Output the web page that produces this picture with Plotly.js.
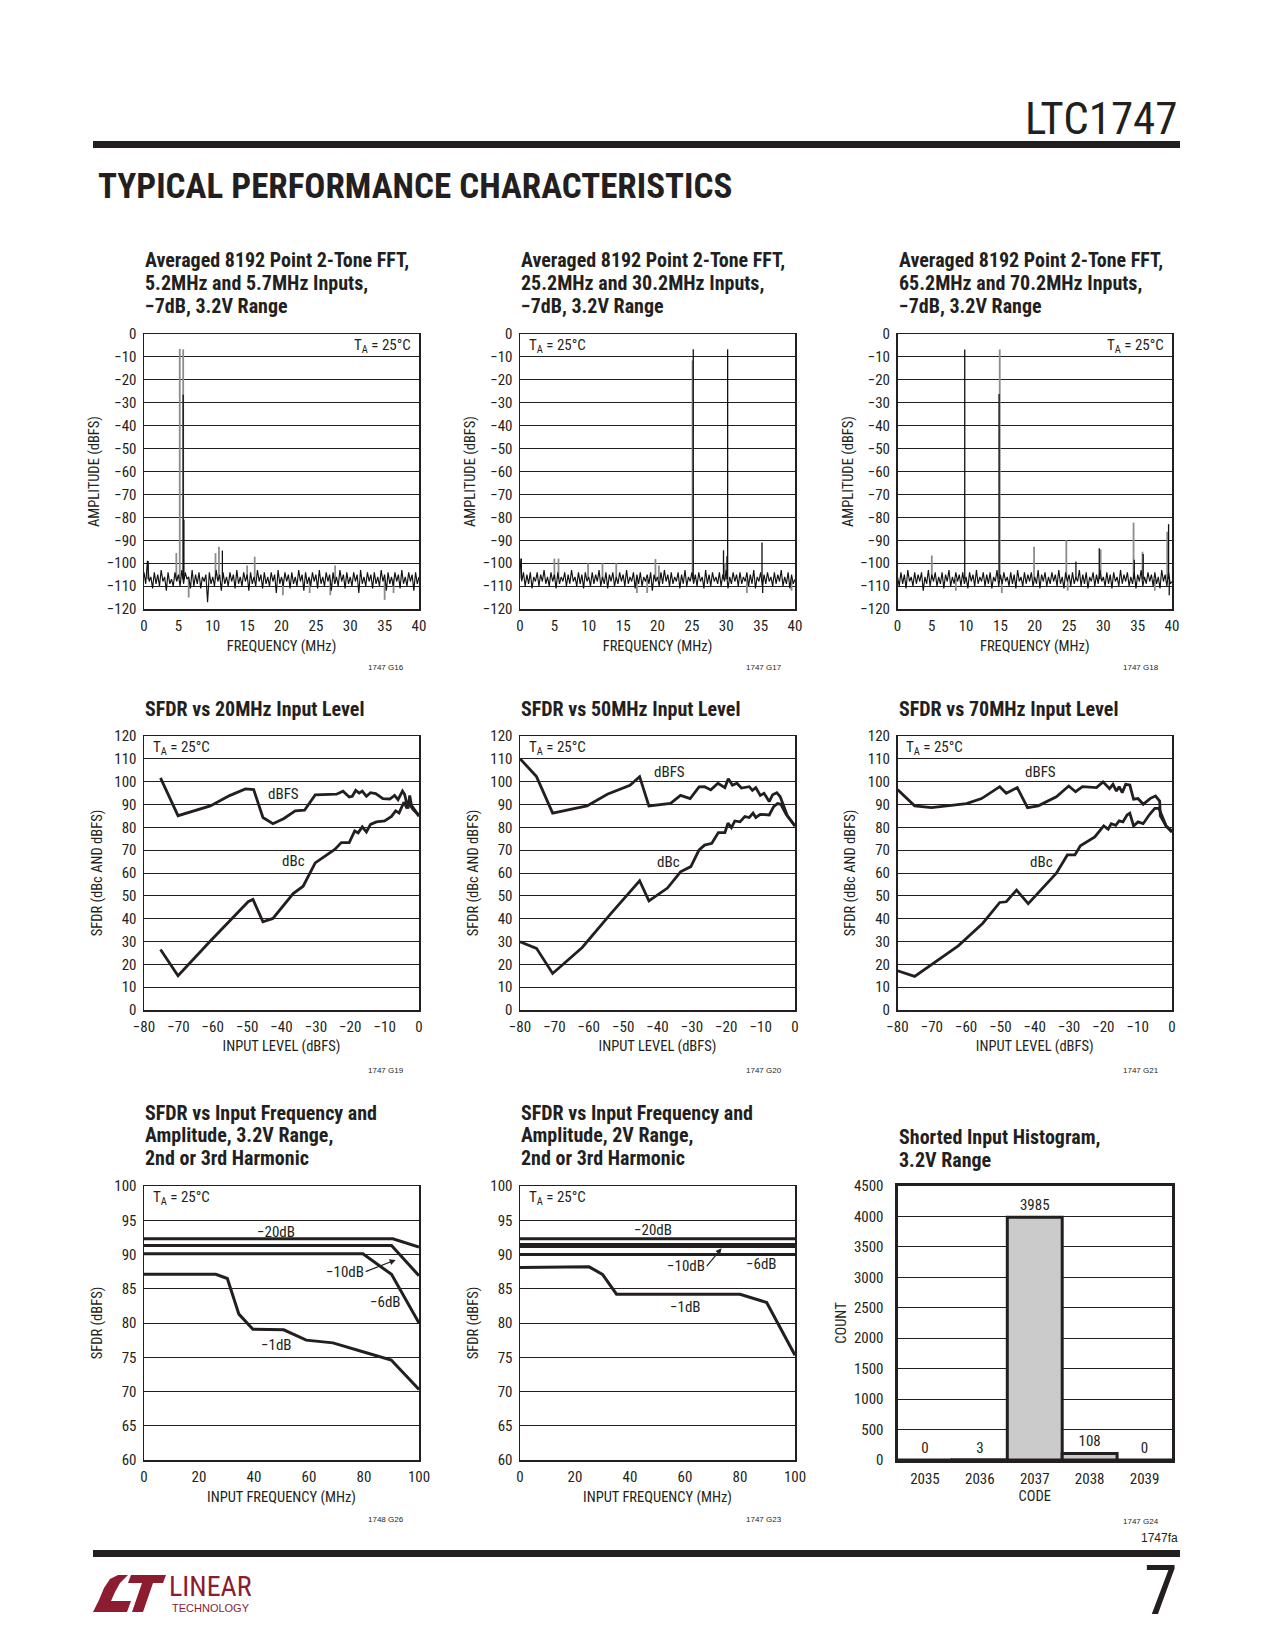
<!DOCTYPE html>
<html><head><meta charset="utf-8">
<script src="https://cdn.plot.ly/plotly-3.0.1.min.js"></script>
<style>html,body{margin:0;padding:0;background:#fff}#chart{width:1275px;height:1650px}</style>
</head><body><div id="chart"></div>
<script>
// ---------------- DATA ----------------
// FFT charts: bin spacing of the averaged noise floor (MHz) and floor values (dBFS)
const fftBinStep = 0.25;
const fft1Noise = [-104,-109,-99,-108,-106,-111,-104,-109,-105,-110,
 -103,-108,-106,-112,-104,-109,-107,-110,-104,-108,
 -105,-110,-103,-109,-104,-107,-106,-111,-103,-110,
 -105,-109,-104,-111,-106,-108,-105,-117,-104,-109,
 -106,-110,-103,-108,-105,-112,-104,-109,-106,-110,
 -104,-108,-105,-111,-103,-109,-106,-110,-104,-108,
 -105,-112,-104,-109,-106,-110,-103,-108,-105,-111,
 -104,-109,-106,-110,-104,-108,-105,-113,-103,-109,
 -106,-110,-104,-108,-105,-111,-104,-109,-106,-110,
 -103,-108,-105,-112,-104,-109,-106,-110,-104,-108,
 -105,-111,-103,-109,-106,-110,-104,-108,-105,-112,
 -104,-109,-106,-110,-103,-108,-105,-111,-104,-109,
 -106,-110,-104,-108,-105,-113,-103,-109,-106,-110,
 -104,-108,-105,-111,-104,-109,-106,-110,-103,-108,
 -105,-112,-104,-109,-106,-110,-104,-108,-105,-111,
 -103,-109,-106,-110,-104,-108,-105,-112,-104,-109,
 -106];
const fft2Noise = [-98,-108,-104,-110,-105,-109,-104,-111,-106,-108,
 -104,-110,-105,-108,-103,-109,-106,-110,-104,-108,
 -105,-111,-104,-109,-106,-108,-104,-110,-105,-109,
 -103,-108,-106,-110,-104,-109,-105,-111,-104,-108,
 -106,-110,-104,-109,-105,-108,-103,-110,-106,-109,
 -104,-111,-105,-108,-104,-110,-106,-109,-104,-108,
 -105,-110,-103,-109,-106,-108,-104,-111,-105,-109,
 -104,-110,-106,-108,-105,-109,-104,-112,-105,-108,
 -106,-110,-104,-109,-103,-108,-105,-110,-104,-109,
 -106,-108,-104,-111,-105,-109,-103,-110,-106,-108,
 -104,-109,-105,-110,-104,-108,-106,-111,-103,-109,
 -105,-110,-104,-108,-106,-109,-104,-110,-105,-108,
 -103,-111,-106,-109,-104,-108,-105,-110,-104,-109,
 -106,-108,-104,-110,-105,-109,-103,-111,-106,-108,
 -104,-110,-105,-109,-104,-108,-106,-110,-104,-109,
 -105,-108,-103,-110,-106,-109,-104,-111,-105,-109,
 -107];
const fft3Noise = [-106,-110,-104,-109,-105,-111,-103,-108,-106,-110,
 -104,-109,-105,-108,-104,-112,-106,-109,-103,-110,
 -105,-108,-104,-110,-106,-109,-104,-111,-105,-108,
 -103,-110,-106,-109,-104,-108,-105,-110,-104,-109,
 -106,-111,-104,-108,-105,-110,-103,-109,-106,-108,
 -104,-110,-105,-109,-104,-111,-106,-108,-103,-110,
 -105,-109,-104,-108,-106,-110,-104,-109,-105,-111,
 -103,-108,-106,-110,-104,-109,-105,-108,-104,-110,
 -106,-109,-103,-111,-105,-108,-104,-110,-106,-109,
 -104,-108,-105,-110,-103,-109,-106,-111,-104,-108,
 -105,-110,-104,-109,-106,-108,-103,-110,-105,-109,
 -104,-111,-106,-108,-104,-110,-105,-109,-103,-108,
 -106,-110,-104,-109,-105,-111,-104,-108,-106,-110,
 -103,-109,-105,-108,-104,-110,-106,-109,-104,-111,
 -105,-108,-103,-110,-106,-109,-104,-108,-105,-110,
 -104,-109,-106,-111,-103,-108,-105,-110,-104,-109,
 -108];
const fftFloor = -107;
// spectral lines (MHz, dBFS): grey = one averaged trace, black = other trace
const fft1GreyFreq = [4.7, 5.2, 5.7, 10.4, 10.9, 15.0, 16.1, 27.8, 6.5, 20.2, 24.1, 27.1, 35.0, 36.3];
const fft1GreyAmp  = [-95.6, -6.5, -6.7, -95.6, -92.8, -101, -97.2, -101, -115, -114, -113, -114, -116, -113];
const fft1BlackFreq = [0.6, 5.7, 5.8, 11.4];
const fft1BlackAmp  = [-99, -26.5, -81, -94.5];
const fft2GreyFreq = [5.0, 5.6, 9.9, 12.0, 14.0, 19.7, 20.2, 25.1, 29.8, 17.0, 18.5, 33.0, 39.5];
const fft2GreyAmp  = [-98, -98, -100, -100, -100, -98.2, -101, -11.5, -100, -113, -113, -113, -112];
const fft2BlackFreq = [0.2, 25.2, 29.6, 30.1, 30.2, 35.2, 35.3];
const fft2BlackAmp  = [-98, -6.7, -94.4, -97, -6.7, -91, -113];
const fft3GreyFreq = [5.0, 14.9, 19.9, 24.6, 29.6, 34.4, 35.7, 39.3, 8.5, 15.2, 24.8, 37.5];
const fft3GreyAmp  = [-96.7, -6.8, -92.8, -90, -94, -82.3, -95, -86.3, -112, -113, -112, -112];
const fft3BlackFreq = [9.8, 14.8, 26.0, 29.4, 34.5, 35.8, 39.5, 39.6];
const fft3BlackAmp  = [-6.8, -26.2, -99.3, -93.5, -98.5, -96, -83, -114];

// SFDR vs input level (dBFS input level, SFDR)
const s20FsX = [-75.2,-70.1,-60.7,-55.1,-50.5,-48.1,-45.4,-42.5,-39.4,-36.0,-33.3,-30.2,-24.0,-22.1,-20.3,-19.4,-18.4,-17.4,-16.5,-15.3,-14.1,-12.6,-10.5,-8.5,-7.1,-6.1,-4.8,-4.2,-3.2,-2.7,-2.2,0];
const s20FsY = [101.7,85.1,89.4,93.9,96.8,96.5,84.3,81.6,83.8,87.2,87.5,94.2,94.5,95.8,93.3,93.6,96.2,95.0,95.9,93.6,95.2,94.8,92.6,92.4,94.0,92.1,95.9,94.5,88.2,94.0,89.7,84.8];
const s20CX = [-75.2,-70.1,-60.9,-49.7,-48.3,-45.4,-42.5,-36.6,-33.7,-30.2,-24.5,-22.6,-20.3,-18.7,-17.7,-16.5,-15.3,-14.1,-12.4,-10.0,-8.0,-6.8,-5.8,-4.4,-3.7,-2.9,-1.7,0];
const s20CY = [26.5,15.0,29.9,47.4,48.4,38.6,40.1,51.0,54.2,64.4,70.3,73.3,73.3,78.4,77.6,80.2,78.0,81.3,82.4,82.8,84.8,87.2,86.3,91.0,88.9,90.4,87.8,85.3];
const s50FsX = [-80,-75.2,-70.5,-60.5,-54.6,-48.0,-45.2,-42.5,-36.2,-33.3,-30.5,-27.9,-26.3,-24.5,-22.4,-20.4,-19.4,-18.2,-16.9,-15.6,-13.3,-12.4,-11.4,-10.1,-9.0,-7.5,-6.5,-5.3,-4.3,-3.3,-2.2,0];
const s50FsY = [110.1,102.2,86.2,89.4,94.5,98.4,102.2,89.4,90.5,94.0,92.6,97.7,97.8,96.4,99.3,97.4,101.3,98.4,99.3,97.2,97.8,96.2,97.4,94.0,94.9,91.3,94.3,95.2,93.4,89.1,85.0,80.6];
const s50CX = [-80,-75.2,-70.5,-61.9,-53.7,-45.2,-42.5,-37.1,-33.3,-30.3,-27.9,-26.3,-24.2,-22.3,-20.4,-19.5,-18.5,-17.5,-16.0,-14.6,-13.3,-12.2,-11.4,-10.1,-7.5,-6.2,-5.1,-4.1,-2.6,0];
const s50CY = [29.9,27.0,16.0,27.4,42.0,56.6,47.8,53.4,60.5,62.8,70.1,72.2,73.0,77.7,77.7,81.8,79.9,82.8,82.4,84.7,84.3,86.2,84.3,85.7,85.4,89.1,90.4,90.1,85.7,80.6];
const s70FsX = [-80,-75.0,-70.1,-59.9,-55.5,-50.2,-48.3,-45.1,-42.1,-39.0,-33.7,-30.1,-28.1,-26.1,-22.0,-20.1,-18.2,-17.2,-16.2,-15.4,-14.5,-13.5,-12.3,-11.2,-9.9,-8.4,-6.3,-4.8,-3.6,-3.4,-1.7,0];
const s70FsY = [96.6,89.4,88.6,90.4,92.6,97.8,94.9,97.4,88.6,89.4,93.4,98.1,95.6,97.8,97.4,99.9,96.9,98.8,95.9,97.8,95.2,98.8,98.5,92.3,92.6,90.1,92.7,93.7,91.5,85.0,80.5,77.8];
const s70CX = [-80,-75.0,-62.3,-55.2,-50.2,-48.3,-45.3,-41.9,-33.7,-30.5,-28.3,-26.7,-22.5,-19.9,-18.6,-17.7,-16.4,-15.4,-14.3,-13.1,-12.3,-11.2,-9.9,-8.4,-6.5,-5.0,-3.8,-2.8,-1.7,0];
const s70CY = [17.2,14.7,28.1,37.9,47.1,47.4,52.5,46.6,59.9,67.9,67.9,71.9,75.8,80.6,79.2,81.6,80.9,82.8,82.4,85.4,86.2,80.6,82.4,81.6,85.7,88.3,88.3,85.0,80.6,78.4];

// SFDR vs input frequency (MHz, dBFS), 3.2V range
const r32m20X = [0, 90.5, 100];            const r32m20Y = [92.3, 92.3, 91.1];
const r32m10X = [0, 90, 100];              const r32m10Y = [91.3, 91.3, 86.9];
const r32m6X  = [0, 79.6, 90, 100];        const r32m6Y  = [90.1, 90.1, 87.1, 80.0];
const r32m1X  = [0,26.1,30.3,34.5,39.6,50.8,59.0,68.7,79.6,89.9,100];
const r32m1Y  = [87.1,87.1,86.5,81.3,79.1,79.0,77.5,77.1,75.8,74.6,70.3];
// 2V range
const r2m20X = [0, 100];  const r2m20Y = [92.3, 92.3];
const r2m10X = [0, 100];  const r2m10Y = [91.3, 91.3];
const r2m6X  = [0, 100];  const r2m6Y  = [90.0, 90.0];
const r2m1X  = [0,25.1,30.0,35.1,80.0,89.7,100];
const r2m1Y  = [88.1,88.2,87.1,84.2,84.2,83.0,75.3];

// Shorted input histogram
const histCodes  = [2035, 2036, 2037, 2038, 2039];
const histCounts = [0, 3, 3985, 108, 0];

// ---------------- RENDERING ----------------
const W = 1275, H = 1650;
const INK = '#231f20';
const FONT = '"Liberation Sans Narrow","Roboto Condensed","DejaVu Sans Condensed",Arial,sans-serif';
const FS = 15;
const px = v => v / W, py = v => 1 - v / H;
const cols = [[144, 419], [520, 795], [897.5, 1172]];
const rows = [[334, 609], [736, 1010], [1186, 1460]];
const xd = c => [px(cols[c][0]), px(cols[c][1])];
const yd = r => [py(rows[r][1]), py(rows[r][0])];

function ax(dom, extra) {
  return Object.assign({domain: dom, showline: true, mirror: true, linecolor: INK, linewidth: 1.5,
    showgrid: false, zeroline: false, ticks: '', fixedrange: true,
    tickfont: {family: FONT, size: FS, color: INK}}, extra);
}
const grid = {showgrid: true, gridcolor: INK, gridwidth: 1};
const at = (t, s) => ({text: t, font: {family: FONT, size: 14.5, color: INK}, standoff: s});

const traces = [];
function fftTraces(noise, gF, gA, bF, bA, xa, ya) {
  const nx = noise.map((_, i) => i * fftBinStep);
  const seg = (f, a) => { const x = [], y = []; f.forEach((v, i) => { x.push(v, v, null); y.push(fftFloor, a[i], null); }); return {x, y}; };
  const g = seg(gF, gA), b = seg(bF, bA);
  traces.push({type: 'scatter', mode: 'lines', x: g.x, y: g.y, xaxis: xa, yaxis: ya, line: {color: '#8c8c8c', width: 1.8}, hoverinfo: 'skip', showlegend: false});
  traces.push({type: 'scatter', mode: 'lines', x: nx, y: noise, xaxis: xa, yaxis: ya, line: {color: '#111', width: 1.15}, hoverinfo: 'skip', showlegend: false});
  traces.push({type: 'scatter', mode: 'lines', x: b.x, y: b.y, xaxis: xa, yaxis: ya, line: {color: '#111', width: 1.3}, hoverinfo: 'skip', showlegend: false});
}
fftTraces(fft1Noise, fft1GreyFreq, fft1GreyAmp, fft1BlackFreq, fft1BlackAmp, 'x', 'y');
fftTraces(fft2Noise, fft2GreyFreq, fft2GreyAmp, fft2BlackFreq, fft2BlackAmp, 'x2', 'y2');
fftTraces(fft3Noise, fft3GreyFreq, fft3GreyAmp, fft3BlackFreq, fft3BlackAmp, 'x3', 'y3');

function line(x, y, xa, ya, w, name) {
  traces.push({type: 'scatter', mode: 'lines', x, y, xaxis: xa, yaxis: ya, name, line: {color: INK, width: w}, showlegend: false});
}
line(s20FsX, s20FsY, 'x4', 'y4', 2.8, 'dBFS'); line(s20CX, s20CY, 'x4', 'y4', 2.8, 'dBc');
line(s50FsX, s50FsY, 'x5', 'y5', 2.8, 'dBFS'); line(s50CX, s50CY, 'x5', 'y5', 2.8, 'dBc');
line(s70FsX, s70FsY, 'x6', 'y6', 2.8, 'dBFS'); line(s70CX, s70CY, 'x6', 'y6', 2.8, 'dBc');
line(r32m20X, r32m20Y, 'x7', 'y7', 3, '−20dB'); line(r32m10X, r32m10Y, 'x7', 'y7', 3, '−10dB');
line(r32m6X, r32m6Y, 'x7', 'y7', 3, '−6dB');   line(r32m1X, r32m1Y, 'x7', 'y7', 3, '−1dB');
line(r2m20X, r2m20Y, 'x8', 'y8', 3, '−20dB'); line(r2m10X, r2m10Y, 'x8', 'y8', 5, '−10dB');
line(r2m6X, r2m6Y, 'x8', 'y8', 3, '−6dB');   line(r2m1X, r2m1Y, 'x8', 'y8', 3, '−1dB');

traces.push({type: 'bar', x: histCodes, y: histCounts, xaxis: 'x9', yaxis: 'y9', width: 1,
  marker: {color: '#cbcbcb', line: {color: INK, width: 3}},
  text: histCounts.map(String), textposition: 'outside', cliponaxis: false,
  textfont: {family: FONT, size: FS, color: INK}, showlegend: false});

const sx = {ticklabelstandoff: 2};   // x tick labels slightly lower
const sy = {ticklabelstandoff: 3};   // y tick labels slightly further left
const layout = {
  width: W, height: H, margin: {l: 0, r: 0, t: 0, b: 0, pad: 0},
  paper_bgcolor: '#fff', plot_bgcolor: '#fff', showlegend: false, bargap: 0,
  font: {family: FONT, color: INK},
  xaxis:  ax(xd(0), Object.assign({anchor: 'y',  range: [0, 40], dtick: 5, tick0: 0, title: at('FREQUENCY (MHz)', 7)}, sx)),
  yaxis:  ax(yd(0), Object.assign({anchor: 'x',  range: [-120, 0], dtick: 10, title: at('AMPLITUDE (dBFS)', 3)}, grid, sy)),
  xaxis2: ax(xd(1), Object.assign({anchor: 'y2', range: [0, 40], dtick: 5, tick0: 0, title: at('FREQUENCY (MHz)', 7)}, sx)),
  yaxis2: ax(yd(0), Object.assign({anchor: 'x2', range: [-120, 0], dtick: 10, title: at('AMPLITUDE (dBFS)', 3)}, grid, sy)),
  xaxis3: ax(xd(2), Object.assign({anchor: 'y3', range: [0, 40], dtick: 5, tick0: 0, title: at('FREQUENCY (MHz)', 7)}, sx)),
  yaxis3: ax(yd(0), Object.assign({anchor: 'x3', range: [-120, 0], dtick: 10, title: at('AMPLITUDE (dBFS)', 3)}, grid, sy)),
  xaxis4: ax(xd(0), Object.assign({anchor: 'y4', range: [-80, 0], dtick: 10, tick0: 0, title: at('INPUT LEVEL (dBFS)', 6)}, sx)),
  yaxis4: ax(yd(1), Object.assign({anchor: 'x4', range: [0, 120], dtick: 10, title: at('SFDR (dBc AND dBFS)', 8)}, grid, sy)),
  xaxis5: ax(xd(1), Object.assign({anchor: 'y5', range: [-80, 0], dtick: 10, tick0: 0, title: at('INPUT LEVEL (dBFS)', 6)}, sx)),
  yaxis5: ax(yd(1), Object.assign({anchor: 'x5', range: [0, 120], dtick: 10, title: at('SFDR (dBc AND dBFS)', 8)}, grid, sy)),
  xaxis6: ax(xd(2), Object.assign({anchor: 'y6', range: [-80, 0], dtick: 10, tick0: 0, title: at('INPUT LEVEL (dBFS)', 6)}, sx)),
  yaxis6: ax(yd(1), Object.assign({anchor: 'x6', range: [0, 120], dtick: 10, title: at('SFDR (dBc AND dBFS)', 8)}, grid, sy)),
  xaxis7: ax(xd(0), Object.assign({anchor: 'y7', range: [0, 100], dtick: 20, tick0: 0, title: at('INPUT FREQUENCY (MHz)', 7)}, sx)),
  yaxis7: ax(yd(2), Object.assign({anchor: 'x7', range: [60, 100], dtick: 5, title: at('SFDR (dBFS)', 8)}, grid, sy)),
  xaxis8: ax(xd(1), Object.assign({anchor: 'y8', range: [0, 100], dtick: 20, tick0: 0, title: at('INPUT FREQUENCY (MHz)', 7)}, sx)),
  yaxis8: ax(yd(2), Object.assign({anchor: 'x8', range: [60, 100], dtick: 5, title: at('SFDR (dBFS)', 8)}, grid, sy)),
  xaxis9: ax(xd(2), {anchor: 'y9', range: [2034.5, 2039.5], tickvals: histCodes, ticktext: histCodes.map(String), linewidth: 3, ticklabelstandoff: 3, title: at('CODE', 2)}),
  yaxis9: ax(yd(2), Object.assign({anchor: 'x9', range: [0, 4500], dtick: 500, linewidth: 3, ticklabelstandoff: 8, title: at('COUNT', 4)}, grid)),
  annotations: [], shapes: []
};

const A = layout.annotations;
function txt(x, y, text, o) {
  A.push(Object.assign({xref: 'paper', yref: 'paper', x: px(x), y: py(y), text, showarrow: false,
    xanchor: 'left', yanchor: 'middle', font: {family: FONT, size: FS, color: INK}}, o || {}));
}
function titleLines(x, ys, lines) {
  lines.forEach((t, i) => txt(x, ys[i], t, {font: {family: FONT, size: 20, color: INK, weight: 700}}));
}
const r1y = [260.5, 283, 305.5], r3y = [1112.5, 1135, 1157.5];
titleLines(cols[0][0] - 1, r1y, ['Averaged 8192 Point 2-Tone FFT,', '5.2MHz and 5.7MHz Inputs,', '−7dB, 3.2V Range']);
titleLines(cols[1][0] - 1, r1y, ['Averaged 8192 Point 2-Tone FFT,', '25.2MHz and 30.2MHz Inputs,', '−7dB, 3.2V Range']);
titleLines(cols[2][0] - 1, r1y, ['Averaged 8192 Point 2-Tone FFT,', '65.2MHz and 70.2MHz Inputs,', '−7dB, 3.2V Range']);
titleLines(cols[0][0] - 1, [709], ['SFDR vs 20MHz Input Level']);
titleLines(cols[1][0] - 1, [709], ['SFDR vs 50MHz Input Level']);
titleLines(cols[2][0] - 1, [709], ['SFDR vs 70MHz Input Level']);
titleLines(cols[0][0] - 1, r3y, ['SFDR vs Input Frequency and', 'Amplitude, 3.2V Range,', '2nd or 3rd Harmonic']);
titleLines(cols[1][0] - 1, r3y, ['SFDR vs Input Frequency and', 'Amplitude, 2V Range,', '2nd or 3rd Harmonic']);
titleLines(cols[2][0] - 1, [1136.5, 1159.5], ['Shorted Input Histogram,', '3.2V Range']);

// T_A labels (axis-domain positions)
const ta = 'T<sub>A</sub> = 25°C';
function dom(n, x, y, text, xanchor) {
  const s = n === 1 ? '' : String(n);
  A.push({xref: 'x' + s + ' domain', yref: 'y' + s + ' domain', x, y, text, showarrow: false, xanchor,
    yanchor: 'middle', font: {family: FONT, size: FS, color: INK}});
}
dom(1, 0.978, 0.955, ta, 'right'); dom(2, 0.025, 0.955, ta, 'left'); dom(3, 0.978, 0.955, ta, 'right');
[4, 5, 6, 7, 8].forEach(n => dom(n, 0.025, 0.955, ta, 'left'));

// curve labels (data coordinates)
function lab(n, x, y, text) {
  A.push({xref: 'x' + n, yref: 'y' + n, x, y, text, showarrow: false, xanchor: 'center', yanchor: 'middle',
    font: {family: FONT, size: FS, color: INK}});
}
lab(4, -39.4, 94.5, 'dBFS'); lab(4, -36.4, 65.3, 'dBc');
lab(5, -36.4, 104.2, 'dBFS'); lab(5, -36.9, 65.0, 'dBc');
lab(6, -38.3, 104.2, 'dBFS'); lab(6, -38.1, 65.0, 'dBc');
lab(7, 48.1, 93.3, '−20dB'); lab(7, 87.9, 83.1, '−6dB'); lab(7, 48.1, 76.8, '−1dB');
lab(8, 48.4, 93.6, '−20dB'); lab(8, 87.9, 88.6, '−6dB'); lab(8, 60.0, 82.3, '−1dB');
function arrowLab(n, hx, hy, tx, ty, text) {
  A.push({xref: 'x' + n, yref: 'y' + n, x: hx, y: hy, axref: 'x' + n, ayref: 'y' + n, ax: tx, ay: ty,
    text, showarrow: true, arrowhead: 2, arrowsize: 1, arrowwidth: 1.2, arrowcolor: INK, xanchor: 'right',
    font: {family: FONT, size: FS, color: INK}});
}
arrowLab(7, 91.5, 89.2, 80.6, 87.5, '−10dB');
arrowLab(8, 73.3, 90.9, 67.9, 88.3, '−10dB');

// figure codes
const small = {family: '"Liberation Sans",Arial,sans-serif', size: 8, color: INK};
[[406, 668, '1747 G16'], [784, 668, '1747 G17'], [1161, 668, '1747 G18'],
 [406, 1070, '1747 G19'], [784, 1070, '1747 G20'], [1161, 1070, '1747 G21'],
 [406, 1519, '1748 G26'], [784, 1519, '1747 G23'], [1161, 1521, '1747 G24']]
  .forEach(c => txt(c[0], c[1], c[2], {xanchor: 'right', font: small}));
txt(1180, 1538, '1747fa', {xanchor: 'right', font: {family: '"Liberation Sans",Arial,sans-serif', size: 12, color: INK}});

// page header / footer
txt(1180, 118, 'LTC1747', {xanchor: 'right', font: {family: FONT, size: 45, color: INK}});
txt(96, 186, 'TYPICAL PERFORMANCE CHARACTERISTICS', {font: {family: FONT, size: 35, color: INK, weight: 700}});
txt(1180, 1591, '7', {xanchor: 'right', font: {family: FONT, size: 68, color: INK}});
const S = layout.shapes;
S.push({type: 'rect', xref: 'paper', yref: 'paper', x0: px(93), x1: px(1180), y0: py(148), y1: py(141), fillcolor: INK, line: {width: 0}});
S.push({type: 'rect', xref: 'paper', yref: 'paper', x0: px(93), x1: px(1180), y0: py(1557), y1: py(1550), fillcolor: INK, line: {width: 0}});
const RED = '#8c1c2f';
const pathOf = pts => 'M ' + pts.map(p => px(p[0]) + ',' + py(p[1])).join(' L ') + ' Z';
S.push({type: 'path', xref: 'paper', yref: 'paper', fillcolor: RED, line: {width: 0},
  path: pathOf([[93, 1612], [99, 1600], [104, 1588], [110, 1579], [118, 1575], [128, 1575], [120, 1583], [115, 1592], [111, 1601], [131, 1601], [127, 1612]])});
S.push({type: 'path', xref: 'paper', yref: 'paper', fillcolor: RED, line: {width: 0},
  path: pathOf([[131, 1575], [166, 1575], [163, 1583], [153, 1583], [143, 1612], [132, 1612], [142, 1583], [128, 1583]])});
txt(167, 1586, 'LINEAR', {font: {family: FONT, size: 28, color: RED}});
txt(170, 1608, 'TECHNOLOGY', {font: {family: '"Liberation Sans",Arial,sans-serif', size: 11, color: RED}});

Plotly.newPlot('chart', traces, layout, {staticPlot: true, displayModeBar: false});
</script></body></html>
